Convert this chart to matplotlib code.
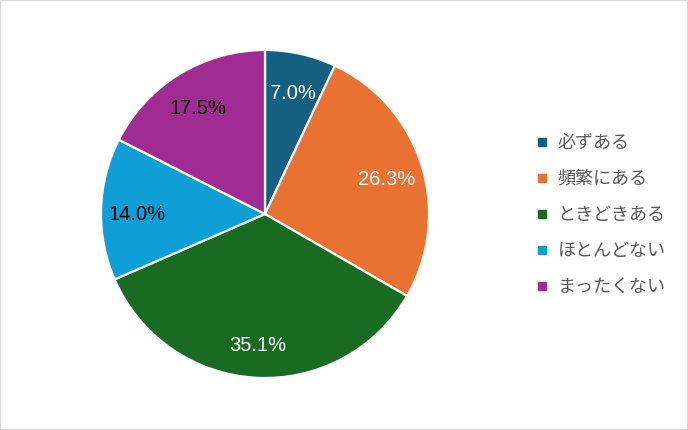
import matplotlib
matplotlib.use("Agg")
import matplotlib.pyplot as plt
from matplotlib.lines import Line2D
from matplotlib.patches import Rectangle
from matplotlib.transforms import offset_copy
import numpy as np

categories = ["必ずある", "頻繁にある", "ときどきある", "ほとんどない", "まったくない"]
values = [7.0, 26.3, 35.1, 14.0, 17.5]
colors = ["#156082", "#E97132", "#196B24", "#0F9ED5", "#A02B93"]
label_colors = ["white", "white", "white", "black", "black"]

fig = plt.figure(figsize=(6.88, 4.30), dpi=100)
fig.patch.set_facecolor("white")

r = 164
cx, cy = 265, 214
ax = fig.add_axes([(cx - r) / 688, (430 - cy - r) / 430, 2 * r / 688, 2 * r / 430])

wedges, _ = ax.pie(values, colors=colors, startangle=90, counterclock=False,
                   radius=1.0, wedgeprops=dict(edgecolor="white", linewidth=1.6))

total = sum(values)
cum = 0.0
tr = offset_copy(ax.transData, fig=fig, x=0, y=-4, units="dots")
for v, c in zip(values, label_colors):
    mid = cum + v / 2
    cum += v
    ang = np.deg2rad(90 - mid / total * 360)
    d = 0.78
    ax.text(d * np.cos(ang), d * np.sin(ang), f"{v:.1f}%", ha="center", va="center",
            fontsize=14.5, color=c, family=["Liberation Sans", "DejaVu Sans"],
            transform=tr)

ax.set_xlim(-1, 1)
ax.set_ylim(-1, 1)
ax.set_aspect("auto")
ax.axis("off")

handles = [Line2D([0], [0], marker="s", linestyle="none", markersize=6,
                  markerfacecolor=c, markeredgecolor=c) for c in colors]
leg = fig.legend(handles, categories, loc="center left",
                 bbox_to_anchor=(528 / 688, 1 - 215 / 430), frameon=False,
                 prop={"family": ["Noto Sans CJK JP", "DejaVu Sans"], "size": 13},
                 labelcolor="#595959", handlelength=0.8, handletextpad=0.45,
                 labelspacing=1.0, borderaxespad=0)

fig.patches.append(Rectangle((0, 0), 1, 1, transform=fig.transFigure, fill=False,
                             edgecolor="#d9d9d9", linewidth=1.5))

fig.savefig("out.png", dpi=100)
